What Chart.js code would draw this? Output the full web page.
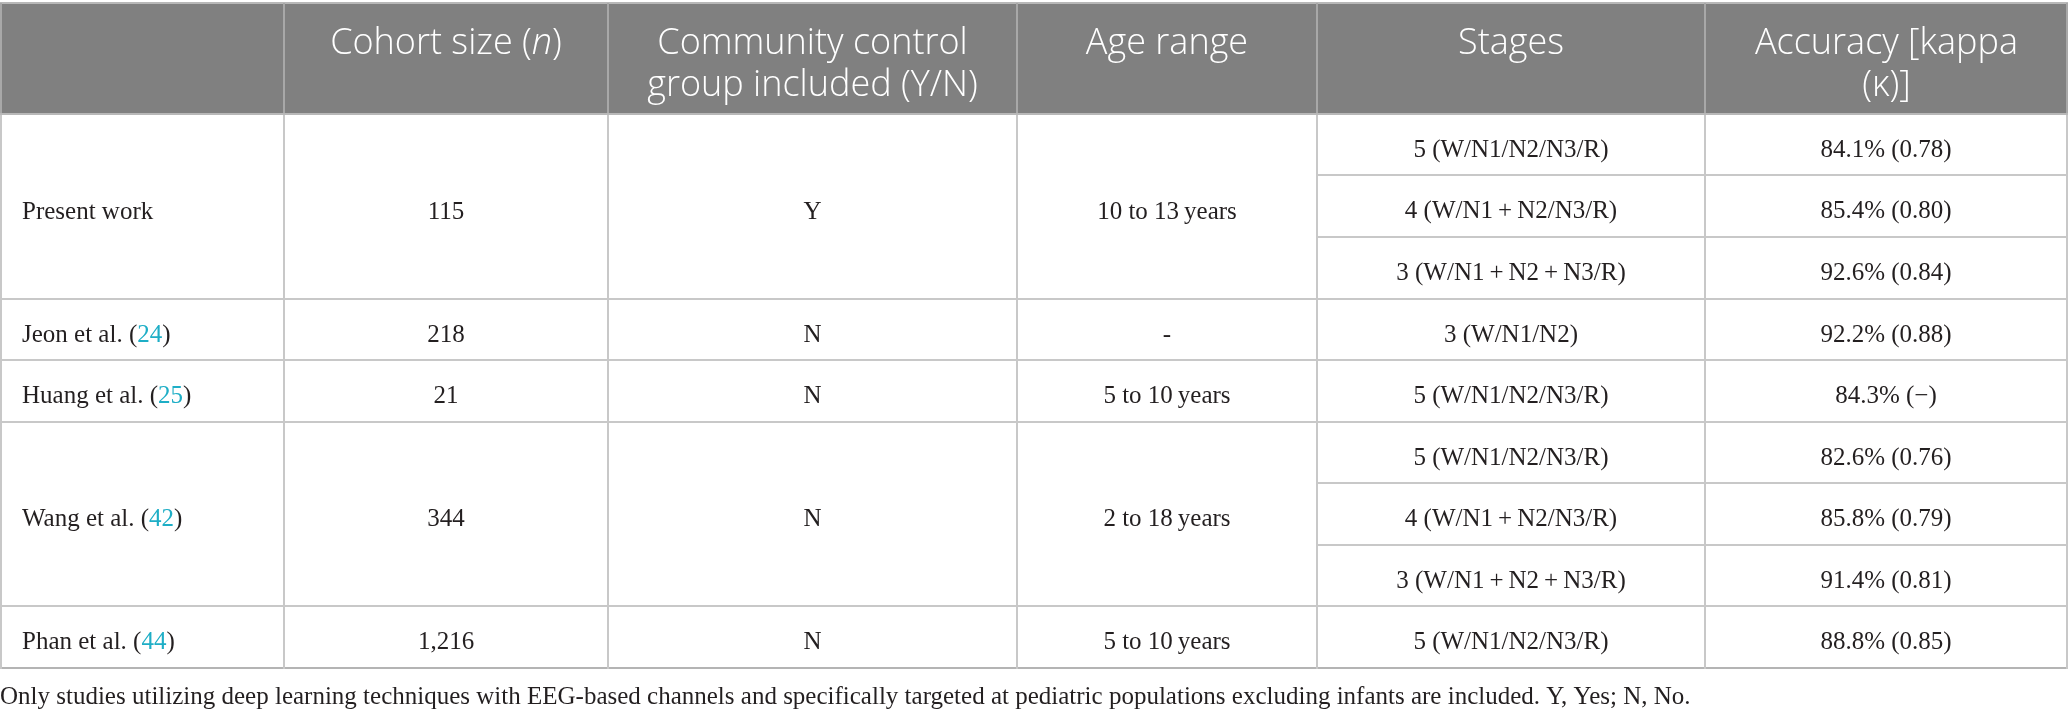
<!DOCTYPE html>
<html>
<head>
<meta charset="utf-8">
<script src="https://cdn.jsdelivr.net/npm/chart.js@4.4.1/dist/chart.umd.min.js"></script>
<style>
    html, body { margin: 0; padding: 0; background: #ffffff; }
    #wrap { width: 2068px; height: 720px; position: relative; }
</style>
</head>
<body>
<div id="wrap"><canvas id="table-chart"></canvas></div>
<script>
// Table content
const headers = ['', 'Cohort size (*n*)', 'Community control|group included (Y/N)', 'Age range', 'Stages', 'Accuracy [kappa|(κ)]'];
const studies = ['Present work', 'Jeon et al.', 'Huang et al.', 'Wang et al.', 'Phan et al.'];
const refs = ['', '24', '25', '42', '44'];
const cohortSizes = ['115', '218', '21', '344', '1,216'];
const controlGroup = ['Y', 'N', 'N', 'N', 'N'];
const ageRanges = ['10 to 13\u2009years', '-', '5 to 10\u2009years', '2 to 18\u2009years', '5 to 10\u2009years'];
const stages = [
    ['5 (W/N1/N2/N3/R)', '4 (W/N1\u2009+\u2009N2/N3/R)', '3 (W/N1\u2009+\u2009N2\u2009+\u2009N3/R)'],
    ['3 (W/N1/N2)'],
    ['5 (W/N1/N2/N3/R)'],
    ['5 (W/N1/N2/N3/R)', '4 (W/N1\u2009+\u2009N2/N3/R)', '3 (W/N1\u2009+\u2009N2\u2009+\u2009N3/R)'],
    ['5 (W/N1/N2/N3/R)']
];
const accuracy = [[84.1, 85.4, 92.6], [92.2], [84.3], [82.6, 85.8, 91.4], [88.8]];
const kappa = [[0.78, 0.80, 0.84], [0.88], [null], [0.76, 0.79, 0.81], [0.85]];
const footnote = 'Only studies utilizing deep learning techniques with EEG-based channels and specifically targeted at pediatric populations excluding infants are included. Y, Yes; N, No.';

// Layout (column widths in x units, header height in row units)
const colWidths = [284, 324, 409, 300, 388, 363];
const headerRows = 1.8;

const colEdges = [0];
colWidths.forEach(w => colEdges.push(colEdges[colEdges.length - 1] + w));
const totalRows = stages.reduce((n, s) => n + s.length, 0);

// Styles
const headFont = '300 36px "Open Sans"';
const headFontItalic = 'italic 300 36px "Open Sans"';
const bodyFont = '25px "Liberation Serif"';
const textColor = '#231f20';
const refColor = '#1eaec6';
const lineColor = '#c8c8c8';

// Build body cells: {col, r0, r1, segs}
const cells = [];
let row = 0;
studies.forEach((name, i) => {
    const span = stages[i].length;
    const nameSegs = refs[i] ? [{ t: name + ' (' }, { t: refs[i], c: refColor }, { t: ')' }] : [{ t: name }];
    cells.push({ col: 0, r0: row, r1: row + span, segs: nameSegs, left: true });
    cells.push({ col: 1, r0: row, r1: row + span, segs: [{ t: cohortSizes[i] }] });
    cells.push({ col: 2, r0: row, r1: row + span, segs: [{ t: controlGroup[i] }] });
    cells.push({ col: 3, r0: row, r1: row + span, segs: [{ t: ageRanges[i] }] });
    stages[i].forEach((st, j) => {
        const k = kappa[i][j];
        const acc = accuracy[i][j].toFixed(1) + '% (' + (k == null ? '\u2212' : k.toFixed(2)) + ')';
        cells.push({ col: 4, r0: row + j, r1: row + j + 1, segs: [{ t: st }] });
        cells.push({ col: 5, r0: row + j, r1: row + j + 1, segs: [{ t: acc }] });
    });
    row += span;
});

// "*x*" marks italic parts of a header line
function parseHeader(line) {
    return line.split('*').map((t, i) => ({ t: t, it: i % 2 == 1 })).filter(s => s.t.length);
}

function drawSegs(ctx, segs, x, y, align, font, italicFont, color) {
    let w = 0;
    segs.forEach(s => { ctx.font = s.it ? italicFont : font; w += ctx.measureText(s.t).width; });
    let cx = align == 'left' ? x : x - w / 2;
    segs.forEach(s => {
        ctx.font = s.it ? italicFont : font;
        ctx.fillStyle = s.c || color;
        ctx.fillText(s.t, cx, y);
        cx += ctx.measureText(s.t).width;
    });
}

function hLine(ctx, x0, x1, y, color) {
    ctx.strokeStyle = color;
    ctx.beginPath();
    ctx.moveTo(x0, y);
    ctx.lineTo(x1, y);
    ctx.stroke();
}

function vLine(ctx, x, y0, y1, color) {
    ctx.strokeStyle = color;
    ctx.beginPath();
    ctx.moveTo(x, y0);
    ctx.lineTo(x, y1);
    ctx.stroke();
}

const tablePlugin = {
    id: 'tableCells',
    afterDatasetsDraw(chart) {
        const { ctx, scales: { x, y }, width } = chart;
        const px = v => Math.min(Math.max(Math.round(x.getPixelForValue(v)), 1), width - 1);
        const py = v => Math.round(y.getPixelForValue(v));

        ctx.save();
        ctx.lineWidth = 2;
        ctx.textBaseline = 'alphabetic';

        // header band
        const hTop = py(-headerRows), hBot = py(0);
        ctx.fillStyle = '#808080';
        ctx.fillRect(0, hTop, width, hBot - hTop);
        hLine(ctx, 0, width, hTop, '#b8b8b8');
        for (let c = 0; c < colEdges.length; c++) {
            vLine(ctx, px(colEdges[c]), hTop, hBot, '#a8a8a8');
        }
        headers.forEach((h, c) => {
            const cx = (x.getPixelForValue(colEdges[c]) + x.getPixelForValue(colEdges[c + 1])) / 2;
            h.split('|').forEach((line, li) => {
                drawSegs(ctx, parseHeader(line), cx, hTop + 51 + li * 42, 'center', headFont, headFontItalic, '#ffffff');
            });
        });

        // body cells
        cells.forEach(cell => {
            const x0 = px(colEdges[cell.col]), x1 = px(colEdges[cell.col + 1]);
            const y0 = py(cell.r0), y1 = py(cell.r1);
            hLine(ctx, x0 - 1, x1 + 1, y1, cell.r1 == totalRows ? '#b4b4b4' : lineColor);
            vLine(ctx, x0, y0, y1 + 1, lineColor);
            vLine(ctx, x1, y0, y1 + 1, lineColor);
            const tx = cell.left ? x0 + 21 : (x0 + x1) / 2;
            drawSegs(ctx, cell.segs, tx, (y0 + y1) / 2 + 12, cell.left ? 'left' : 'center', bodyFont, bodyFont, textColor);
        });
        hLine(ctx, 0, width, hBot, '#b8b8b8');
        ctx.restore();
    }
};

const chart = new Chart(document.getElementById('table-chart').getContext('2d'), {
    type: 'scatter',
    data: { datasets: [] },
    options: {
        responsive: true,
        maintainAspectRatio: false,
        animation: false,
        devicePixelRatio: 1,
        layout: { padding: { top: 3, left: 0, right: 0, bottom: 0 } },
        scales: {
            x: { type: 'linear', display: false, min: 0, max: colEdges[colEdges.length - 1] },
            y: { type: 'linear', display: false, reverse: true, min: -headerRows, max: totalRows }
        },
        plugins: {
            legend: { display: false },
            tooltip: { enabled: false },
            title: {
                display: true,
                text: footnote,
                position: 'bottom',
                align: 'start',
                color: textColor,
                font: { family: 'Liberation Serif', size: 25, weight: 'normal', lineHeight: 1.2 },
                padding: { top: 14, bottom: 8 }
            }
        }
    },
    plugins: [tablePlugin]
});
</script>
</body>
</html>
